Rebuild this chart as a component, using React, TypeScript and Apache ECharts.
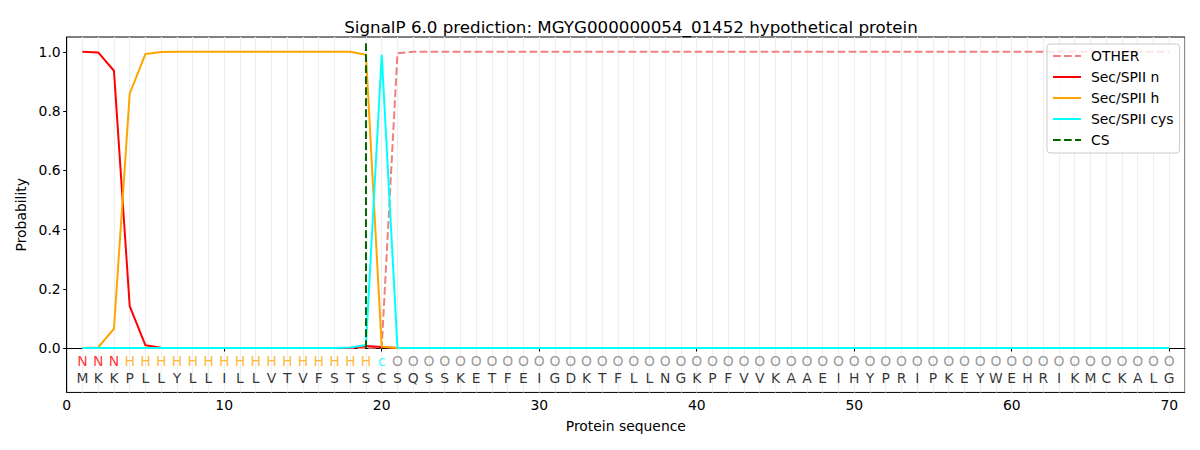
import React, { useEffect, useRef } from "react";
import * as echarts from "echarts";

const TITLE = "SignalP 6.0 prediction: MGYG000000054_01452 hypothetical protein";
const sequence = "MKKPLLYLLILLVTVFSTSCSQSSKETFEIGDKTFLLNGKPFVVKAAEIHYPRIPKEYWEHRIKMCKALG".split("");
const regionLabels = ("NNNHHHHHHH" + "HHHHHHHHHc" + "OOOOOOOOOO" + "OOOOOOOOOO" + "OOOOOOOOOO" + "OOOOOOOOOO" + "OOOOOOOOOO").split("");
const positions = sequence.map((_, i) => i + 1);

const otherProb = [
  0, 0, 0, 0, 0, 0, 0, 0, 0, 0,
  0, 0, 0, 0, 0, 0, 0, 0, 0, 0.002,
  0.995, 1, 1, 1, 1, 1, 1, 1, 1, 1,
  1, 1, 1, 1, 1, 1, 1, 1, 1, 1,
  1, 1, 1, 1, 1, 1, 1, 1, 1, 1,
  1, 1, 1, 1, 1, 1, 1, 1, 1, 1,
  1, 1, 1, 1, 1, 1, 1, 1, 1, 1,
];
const nProb = [
  1.0, 0.998, 0.936, 0.141, 0.009, 0.001, 0, 0, 0, 0,
  0, 0, 0, 0, 0, 0, 0, 0, 0.007, 0.003,
  0, 0, 0, 0, 0, 0, 0, 0, 0, 0,
  0, 0, 0, 0, 0, 0, 0, 0, 0, 0,
  0, 0, 0, 0, 0, 0, 0, 0, 0, 0,
  0, 0, 0, 0, 0, 0, 0, 0, 0, 0,
  0, 0, 0, 0, 0, 0, 0, 0, 0, 0,
];
const hProb = [
  0, 0.002, 0.065, 0.859, 0.993, 0.999, 1, 1, 1, 1,
  1, 1, 1, 1, 1, 1, 1, 1, 0.99, 0.004,
  0, 0, 0, 0, 0, 0, 0, 0, 0, 0,
  0, 0, 0, 0, 0, 0, 0, 0, 0, 0,
  0, 0, 0, 0, 0, 0, 0, 0, 0, 0,
  0, 0, 0, 0, 0, 0, 0, 0, 0, 0,
  0, 0, 0, 0, 0, 0, 0, 0, 0, 0,
];
const cysProb = [
  0, 0, 0, 0, 0, 0, 0, 0, 0, 0,
  0, 0, 0, 0, 0, 0, 0, 0.002, 0.01, 0.99,
  0.001, 0, 0, 0, 0, 0, 0, 0, 0, 0,
  0, 0, 0, 0, 0, 0, 0, 0, 0, 0,
  0, 0, 0, 0, 0, 0, 0, 0, 0, 0,
  0, 0, 0, 0, 0, 0, 0, 0, 0, 0,
  0, 0, 0, 0, 0, 0, 0, 0, 0, 0,
];
const csPosition = 19;
const csSpan = [0, 1.04];
const xTicks = [0, 10, 20, 30, 40, 50, 60, 70];
const yTicks = [0, 0.2, 0.4, 0.6, 0.8, 1.0];
const labelRowY = -0.045;
const seqRowY = -0.1;

const labelColors: Record<string, string> = {
  N: "#ff0000",
  H: "#ffa500",
  c: "#00ffff",
  O: "#808080",
};

const FONT = "DejaVu Sans";

export default function App() {
  const ref = useRef<HTMLDivElement>(null);
  useEffect(() => {
    if (!ref.current) return;
    const chart = echarts.init(ref.current, null, { renderer: "svg" });
    const pairs = (arr: number[]) => positions.map((p, i) => [p, arr[i]]);
    const lineSeries = (name: string, arr: number[], color: string, dashed: boolean, z: number) => ({
      name,
      type: "line",
      data: pairs(arr),
      symbol: "none",
      z,
      lineStyle: {
        color,
        width: 2,
        type: dashed ? [7.7, 3.3] : "solid",
      },
      itemStyle: { color },
    });
    chart.setOption({
      animation: false,
      textStyle: { fontFamily: FONT },
      title: {
        text: TITLE,
        left: 626,
        top: 13,
        textAlign: "center",
        textStyle: { fontFamily: FONT, fontSize: 16.7, fontWeight: "normal", color: "#000" },
      },
      legend: {
        orient: "vertical",
        left: 1047,
        top: 44,
        padding: [5, 6, 6, 5],
        itemWidth: 28,
        itemHeight: 14,
        itemGap: 7,
        backgroundColor: "rgba(255,255,255,0.8)",
        borderColor: "#cccccc",
        borderWidth: 1,
        borderRadius: 3,
        itemStyle: { opacity: 0 },
        textStyle: { fontFamily: FONT, fontSize: 13.9, color: "#000", padding: [0, 0, 0, 5] },
        data: ["OTHER", "Sec/SPII n", "Sec/SPII h", "Sec/SPII cys", "CS"],
      },
      grid: {
        left: 66.7,
        right: 15,
        top: 37,
        bottom: 57.57,
        show: true,
        borderColor: "#000",
        borderWidth: 1,
        backgroundColor: "transparent",
      },
      xAxis: [
        {
          type: "value",
          min: 0,
          max: 71,
          name: "Protein sequence",
          nameLocation: "middle",
          nameGap: 27,
          nameTextStyle: { fontFamily: FONT, fontSize: 13.9, color: "#000" },
          axisLine: { lineStyle: { color: "#000", width: 1 } },
          axisTick: { show: true, length: 3.5, lineStyle: { color: "#000" }, customValues: xTicks },
          axisLabel: { margin: 6, fontFamily: FONT, fontSize: 13.9, color: "#000", customValues: xTicks },
          splitLine: { show: false },
        },
        {
          type: "value",
          min: 0,
          max: 71,
          interval: 1,
          position: "top",
          axisLine: { show: false },
          axisTick: { show: false },
          axisLabel: { show: false },
          splitLine: { show: true, lineStyle: { color: "#eeeeee", width: 1.2 } },
        },
      ],
      yAxis: {
        type: "value",
        min: -0.15,
        max: 1.05,
        name: "Probability",
        nameLocation: "middle",
        nameGap: 38,
        nameTextStyle: { fontFamily: FONT, fontSize: 13.9, color: "#000" },
        axisLine: { show: true, lineStyle: { color: "#000", width: 1 } },
        axisTick: { show: true, length: 3.5, lineStyle: { color: "#000" }, customValues: yTicks },
        axisLabel: {
          margin: 6,
          fontFamily: FONT,
          fontSize: 13.9,
          color: "#000",
          customValues: yTicks,
          formatter: (v: number) => v.toFixed(1),
        },
        splitLine: { show: false },
      },
      series: [
        lineSeries("OTHER", otherProb, "#f08080", true, 2),
        lineSeries("Sec/SPII n", nProb, "#ff0000", false, 3),
        lineSeries("Sec/SPII h", hProb, "#ffa500", false, 4),
        lineSeries("Sec/SPII cys", cysProb, "#00ffff", false, 5),
        {
          name: "CS",
          type: "line",
          data: csSpan.map((y) => [csPosition, y]),
          symbol: "none",
          z: 6,
          lineStyle: { color: "#006400", width: 2, type: [7.7, 3.3] },
          itemStyle: { color: "#006400" },
        },
        {
          name: "regions",
          type: "scatter",
          symbolSize: 0,
          silent: true,
          z: 7,
          data: positions.map((p, i) => ({
            value: [p, labelRowY, regionLabels[i]],
            label: { color: labelColors[regionLabels[i]] },
          })),
          label: {
            show: true,
            position: "inside",
            fontFamily: FONT,
            fontSize: 13.9,
            formatter: (p: any) => p.data.value[2],
          },
        },
        {
          name: "sequence",
          type: "scatter",
          symbolSize: 0,
          silent: true,
          z: 7,
          data: positions.map((p, i) => ({ value: [p, seqRowY, sequence[i]] })),
          label: {
            show: true,
            position: "inside",
            fontFamily: FONT,
            fontSize: 13.9,
            color: "#000",
            formatter: (p: any) => p.data.value[2],
          },
        },
      ],
    });
    return () => chart.dispose();
  }, []);
  return (
    <div
      ref={ref}
      style={{ position: "absolute", left: 0, top: 0, width: 1200, height: 450, background: "#fff" }}
    />
  );
}
